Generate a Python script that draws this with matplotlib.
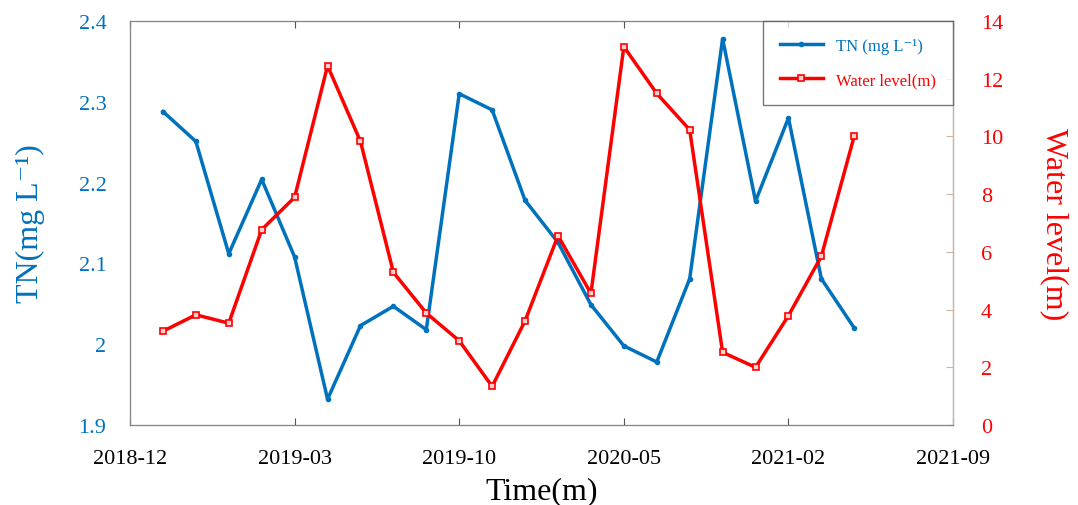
import matplotlib
matplotlib.use("Agg")
import matplotlib.pyplot as plt

plt.rcParams['font.family'] = ['Liberation Serif', 'DejaVu Serif']

# sampling index, TN and water level
idx = list(range(1, 23))
tn = [2.288, 2.251, 2.112, 2.204, 2.108, 1.932, 2.023, 2.047, 2.018, 2.310, 2.290,
      2.178, 2.126, 2.049, 1.998, 1.978, 2.081, 2.378, 2.177, 2.280, 2.081, 2.020]
wl = [3.25, 3.82, 3.53, 6.77, 7.89, 12.45, 9.83, 5.29, 3.88, 2.92, 1.34,
      3.61, 6.56, 4.56, 13.11, 11.49, 10.23, 2.52, 2.00, 3.79, 5.85, 10.02]
xticks = [0, 5, 10, 15, 20, 25]
xlabels = ['2018-12', '2019-03', '2019-10', '2020-05', '2021-02', '2021-09']

blue = '#0072BD'
red = '#FF0000'

fig = plt.figure(figsize=(10.78, 5.06), dpi=100)
ax = fig.add_axes([0.1206, 0.158, 0.7635, 0.7985])
ax2 = ax.twinx()

l1, = ax.plot(idx, tn, color=blue, lw=2.5, marker='.', ms=6, label='TN (mg L⁻¹)')
l2, = ax2.plot(idx, wl, color=red, lw=2.5, marker='s', ms=5, mfc='#ffd0d0', mew=1.2,
               label='Water level(m)')

ax.set_xlim(0, 25)
ax.set_xticks(xticks)
ax.set_xticklabels(xlabels)
ax.set_ylim(1.9, 2.4)
ax.set_yticks([1.9, 2.0, 2.1, 2.2, 2.3, 2.4])
ax.set_yticklabels(['1.9', '2', '2.1', '2.2', '2.3', '2.4'])
ax2.set_ylim(0, 14)
ax2.set_yticks(range(0, 15, 2))

ax.tick_params(axis='x', direction='in', top=True, length=5, labelsize=16, pad=17,
               colors='#555555', labelcolor='black')
ax.tick_params(axis='y', direction='in', length=0, labelsize=16, labelcolor=blue, pad=17)
ax2.tick_params(axis='y', direction='in', length=5, labelsize=16, labelcolor=red,
                colors='#cbb89a', pad=20)

for s in ['left', 'bottom', 'top']:
    ax2.spines[s].set_color('#888888')
ax2.spines['right'].set_color('#cbb89a')

ax.set_xlabel('Time(m)', fontsize=23, labelpad=6)
ax.set_ylabel('TN(mg L⁻¹)', fontsize=23, color=blue, labelpad=24)
ax2.set_ylabel('Water level(m)', fontsize=23, color=red, rotation=270, labelpad=47)

leg = ax2.legend(handles=[l1, l2], loc='upper right', borderaxespad=0, fontsize=12,
                 fancybox=False, edgecolor='#555555', handlelength=2.6, labelspacing=1.1,
                 borderpad=1.0, handletextpad=0.8)
leg.get_frame().set_linewidth(1.0)
leg.texts[0].set_color(blue)
leg.texts[1].set_color(red)

fig.savefig('out.png', dpi=100)
